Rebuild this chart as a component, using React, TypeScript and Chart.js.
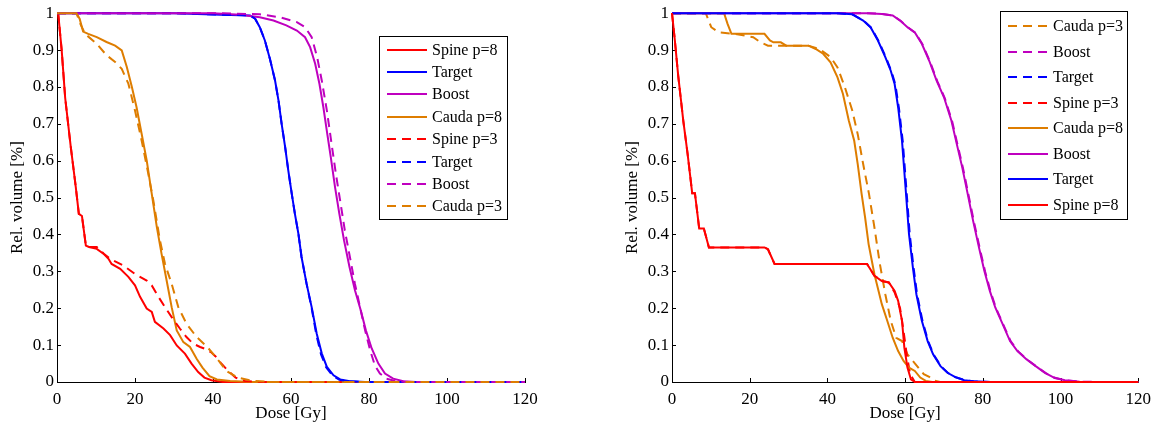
import React, { useEffect, useRef } from 'react';
import { Chart, registerables } from 'chart.js';

Chart.register(...registerables);

// ---------- axis ticks ----------
const X_TICKS = [0, 20, 40, 60, 80, 100, 120];
const Y_TICKS = [0, 0.1, 0.2, 0.3, 0.4, 0.5, 0.6, 0.7, 0.8, 0.9, 1];
const X_TITLE = 'Dose [Gy]';
const Y_TITLE = 'Rel. volume [%]';

// ---------- colours ----------
const RED = '#ff0000';
const BLUE = '#0000ff';
const MAGENTA = '#bf00bf';
const ORANGE = '#de7d00';

type Pt = [number, number];

// ---------- left figure: [dose Gy, relative volume] ----------
const leftSpineP8: Pt[] = [[0, 1], [0.3, 1], [1.2, 0.9], [2.1, 0.77], [3.5, 0.64], [4.8, 0.53], [5.6, 0.456], [6.4, 0.45], [7.4, 0.37], [8.2, 0.366], [10.2, 0.361], [11.9, 0.348], [13.2, 0.334], [14, 0.32], [16.2, 0.307], [18.3, 0.285], [20, 0.262], [21.3, 0.231], [23, 0.199], [24.3, 0.19], [25.1, 0.163], [27.3, 0.145], [29, 0.127], [30.7, 0.099], [32.8, 0.077], [34.5, 0.05], [36.2, 0.027], [37.8, 0.012], [39.6, 0.005], [42.5, 0], [120, 0]];
const leftTargetP8: Pt[] = [[0, 1], [30, 1], [42, 0.996], [49.5, 0.994], [50.8, 0.985], [52, 0.962], [53.3, 0.926], [54.6, 0.876], [55.9, 0.818], [56.8, 0.763], [57.6, 0.7], [58.5, 0.637], [59.3, 0.574], [60.2, 0.51], [61, 0.456], [61.9, 0.402], [62.7, 0.339], [64, 0.266], [65.3, 0.203], [66.6, 0.131], [67.9, 0.077], [69.2, 0.041], [70.9, 0.018], [72.6, 0.007], [75.1, 0.002], [79, 0], [120, 0]];
const leftBoostP8: Pt[] = [[0, 1], [40, 1], [47, 0.996], [52, 0.989], [55.5, 0.98], [58.8, 0.967], [61.5, 0.953], [63.6, 0.935], [64.9, 0.908], [66.2, 0.863], [67.3, 0.808], [68.3, 0.745], [69.3, 0.673], [70.2, 0.61], [71.3, 0.528], [72.4, 0.456], [73.6, 0.384], [75, 0.312], [76.4, 0.249], [77.9, 0.194], [79.2, 0.14], [80.7, 0.091], [82.4, 0.05], [84.1, 0.023], [86.2, 0.009], [88.8, 0.002], [92, 0], [120, 0]];
const leftCaudaP8: Pt[] = [[0, 1], [5, 1], [5.8, 0.985], [6.7, 0.95], [8, 0.944], [10.2, 0.935], [12.7, 0.922], [14.9, 0.912], [16.6, 0.899], [17.9, 0.854], [19.2, 0.8], [20.4, 0.745], [21.7, 0.673], [23, 0.601], [24.3, 0.51], [25.6, 0.42], [26.8, 0.348], [28.1, 0.276], [29.4, 0.203], [30.7, 0.14], [32.4, 0.108], [34.1, 0.095], [35.8, 0.063], [37.3, 0.039], [39.1, 0.016], [41, 0.007], [44.4, 0.003], [50, 0], [120, 0]];
const leftSpineP3: Pt[] = [[0, 1], [0.3, 1], [1.2, 0.9], [2.1, 0.77], [3.5, 0.64], [4.8, 0.53], [5.6, 0.456], [6.4, 0.45], [7.4, 0.37], [8.2, 0.366], [10.2, 0.366], [12, 0.348], [13.6, 0.334], [17, 0.316], [20, 0.293], [23, 0.275], [24.3, 0.262], [26, 0.231], [27.7, 0.203], [29.4, 0.176], [31.5, 0.145], [33.2, 0.122], [34.9, 0.104], [36.7, 0.095], [38.4, 0.088], [39.6, 0.08], [40.6, 0.07], [42, 0.052], [43.9, 0.03], [45.8, 0.012], [48.2, 0.003], [52, 0], [120, 0]];
const leftTargetP3: Pt[] = [[0, 1], [30, 1], [42, 0.996], [49.5, 0.994], [50.8, 0.985], [52, 0.962], [53.3, 0.926], [54.6, 0.876], [55.9, 0.818], [56.8, 0.763], [57.6, 0.7], [58.5, 0.637], [59.3, 0.574], [60.2, 0.51], [61, 0.456], [61.9, 0.402], [62.7, 0.339], [64, 0.266], [65.3, 0.2], [66.5, 0.128], [67.7, 0.075], [69, 0.04], [70.7, 0.017], [72.4, 0.006], [75, 0.002], [79, 0], [120, 0]];
const leftBoostP3: Pt[] = [[0, 1], [42, 1], [52, 0.997], [57.2, 0.989], [61.5, 0.976], [63.6, 0.962], [65.3, 0.935], [66.7, 0.881], [67.9, 0.817], [69.2, 0.736], [70.4, 0.646], [71.5, 0.565], [72.6, 0.492], [73.8, 0.411], [75.1, 0.339], [76.4, 0.266], [77.7, 0.203], [79, 0.14], [80.3, 0.086], [81.5, 0.045], [82.8, 0.023], [84.5, 0.009], [86.7, 0.003], [90, 0], [120, 0]];
const leftCaudaP3: Pt[] = [[0, 1], [5, 1], [5.9, 0.973], [7.2, 0.944], [10.2, 0.917], [12.7, 0.886], [14.9, 0.868], [16.6, 0.849], [18.3, 0.809], [20, 0.736], [21.7, 0.655], [23.4, 0.565], [24.7, 0.492], [26.4, 0.384], [27.7, 0.32], [29.4, 0.266], [31.1, 0.203], [33.2, 0.158], [35.8, 0.122], [38.7, 0.093], [41.5, 0.057], [43.4, 0.03], [46.3, 0.012], [50, 0.003], [55, 0], [120, 0]];

// ---------- right figure: [dose Gy, relative volume] ----------
const rightCaudaP3: Pt[] = [[0, 1], [8.7, 1], [10.1, 0.962], [12, 0.948], [16.2, 0.944], [20.9, 0.935], [22.8, 0.921], [24.7, 0.912], [35.1, 0.912], [37.9, 0.903], [40.8, 0.881], [42.6, 0.853], [44.5, 0.799], [46.4, 0.736], [47.8, 0.672], [49.2, 0.591], [50.7, 0.51], [52.1, 0.419], [53.5, 0.32], [54.9, 0.238], [56.3, 0.166], [57.7, 0.12], [59.2, 0.111], [60.6, 0.075], [62, 0.057], [63.4, 0.039], [64.8, 0.021], [66.2, 0.014], [67.2, 0.005], [69, 0], [120, 0]];
const rightBoostP3: Pt[] = [[0, 1], [50.5, 1], [54.2, 0.998], [57, 0.993], [58.9, 0.979], [60.8, 0.961], [62.7, 0.946], [64.5, 0.915], [66.4, 0.869], [68.3, 0.815], [70.2, 0.77], [72.1, 0.707], [73.5, 0.643], [74.9, 0.58], [76.3, 0.508], [77.7, 0.435], [79.2, 0.363], [80.6, 0.299], [82, 0.245], [83.4, 0.2], [85.3, 0.155], [87.2, 0.11], [89.1, 0.083], [91.4, 0.061], [93.8, 0.042], [96.2, 0.024], [98.5, 0.011], [101.3, 0.005], [105, 0.001], [110, 0], [120, 0]];
const rightTargetP3: Pt[] = [[0, 1], [43, 1], [46.6, 0.996], [49.4, 0.979], [51.3, 0.96], [53.2, 0.924], [55.1, 0.879], [56.5, 0.842], [57.5, 0.806], [58.4, 0.743], [59.4, 0.652], [60.3, 0.526], [61.2, 0.399], [62.2, 0.308], [63.1, 0.236], [64.5, 0.164], [66, 0.109], [67.4, 0.073], [69.3, 0.042], [71.1, 0.024], [73, 0.013], [75.4, 0.005], [77.7, 0.002], [82, 0], [120, 0]];
const rightSpineP3: Pt[] = [[0, 1], [0.7, 0.93], [1.6, 0.83], [2.3, 0.765], [2.9, 0.709], [4, 0.62], [5.2, 0.512], [5.9, 0.512], [7, 0.416], [8.2, 0.416], [9.5, 0.365], [23.8, 0.365], [24.7, 0.36], [26.4, 0.32], [50.2, 0.32], [52.1, 0.288], [54, 0.274], [55.8, 0.27], [57.3, 0.243], [58.7, 0.2], [59.6, 0.138], [60.4, 0.075], [61.3, 0.021], [62.5, 0], [120, 0]];
const rightCaudaP8: Pt[] = [[0, 1], [13.4, 1], [14.3, 0.971], [15.3, 0.944], [23.8, 0.944], [25.2, 0.926], [26.1, 0.921], [28, 0.921], [29.4, 0.912], [35.1, 0.912], [37, 0.903], [38.9, 0.89], [40.8, 0.867], [42.6, 0.826], [44, 0.781], [45.5, 0.709], [46.9, 0.654], [47.8, 0.591], [48.8, 0.51], [49.7, 0.446], [50.6, 0.374], [52.1, 0.292], [54, 0.211], [55.4, 0.166], [56.8, 0.12], [58.2, 0.084], [59.6, 0.057], [61, 0.039], [62.5, 0.03], [63.9, 0.012], [65.3, 0.003], [67, 0], [120, 0]];
const rightBoostP8: Pt[] = [[0, 1], [50.2, 1], [54, 0.998], [56.8, 0.994], [58.7, 0.98], [60.6, 0.962], [62.5, 0.948], [64.3, 0.917], [66.2, 0.871], [68.1, 0.817], [70, 0.772], [71.9, 0.709], [73.3, 0.645], [74.7, 0.582], [76.1, 0.51], [77.5, 0.437], [79, 0.365], [80.4, 0.301], [81.8, 0.247], [83.2, 0.202], [85.1, 0.157], [87, 0.111], [88.9, 0.084], [91.2, 0.062], [93.6, 0.043], [96, 0.025], [98.3, 0.012], [101.1, 0.005], [104.9, 0.001], [110, 0], [120, 0]];
const rightTargetP8: Pt[] = [[0, 1], [42.6, 1], [46.4, 0.997], [49.2, 0.98], [51.1, 0.962], [53, 0.926], [54.9, 0.881], [56.3, 0.844], [57.3, 0.808], [58.2, 0.745], [59.2, 0.654], [60.1, 0.528], [61, 0.401], [62, 0.31], [62.9, 0.238], [64.3, 0.166], [65.8, 0.111], [67.2, 0.075], [69.1, 0.043], [70.9, 0.025], [72.8, 0.014], [75.2, 0.005], [77.5, 0.002], [82, 0], [120, 0]];
const rightSpineP8: Pt[] = [[0, 1], [0.7, 0.93], [1.6, 0.83], [2.3, 0.765], [2.9, 0.709], [4, 0.62], [5.2, 0.512], [5.9, 0.512], [7, 0.416], [8.2, 0.416], [9.5, 0.365], [23.8, 0.365], [24.7, 0.36], [26.4, 0.32], [50.2, 0.32], [52.1, 0.288], [54, 0.274], [55.8, 0.27], [57.3, 0.247], [58.2, 0.22], [59.2, 0.166], [59.8, 0.093], [60.6, 0.039], [61.5, 0.007], [62.5, 0], [120, 0]];

// series in plotting (= legend) order
type Series = { label: string; color: string; dashed: boolean; data: Pt[] };
const LEFT_SERIES: Series[] = [
  { label: 'Spine p=8', color: RED, dashed: false, data: leftSpineP8 },
  { label: 'Target', color: BLUE, dashed: false, data: leftTargetP8 },
  { label: 'Boost', color: MAGENTA, dashed: false, data: leftBoostP8 },
  { label: 'Cauda p=8', color: ORANGE, dashed: false, data: leftCaudaP8 },
  { label: 'Spine p=3', color: RED, dashed: true, data: leftSpineP3 },
  { label: 'Target', color: BLUE, dashed: true, data: leftTargetP3 },
  { label: 'Boost', color: MAGENTA, dashed: true, data: leftBoostP3 },
  { label: 'Cauda p=3', color: ORANGE, dashed: true, data: leftCaudaP3 },
];
const RIGHT_SERIES: Series[] = [
  { label: 'Cauda p=3', color: ORANGE, dashed: true, data: rightCaudaP3 },
  { label: 'Boost', color: MAGENTA, dashed: true, data: rightBoostP3 },
  { label: 'Target', color: BLUE, dashed: true, data: rightTargetP3 },
  { label: 'Spine p=3', color: RED, dashed: true, data: rightSpineP3 },
  { label: 'Cauda p=8', color: ORANGE, dashed: false, data: rightCaudaP8 },
  { label: 'Boost', color: MAGENTA, dashed: false, data: rightBoostP8 },
  { label: 'Target', color: BLUE, dashed: false, data: rightTargetP8 },
  { label: 'Spine p=8', color: RED, dashed: false, data: rightSpineP8 },
];

const FONT = '"Liberation Serif", "Times New Roman", serif';
const DASH = [9, 6];

const inwardTicks = {
  id: 'inwardTicks',
  beforeDatasetsDraw(chart: any) {
    const { ctx, chartArea, scales } = chart;
    ctx.save();
    ctx.strokeStyle = '#000';
    ctx.lineWidth = 1;
    ctx.beginPath();
    X_TICKS.forEach((v) => {
      const px = Math.round(scales.x.getPixelForValue(v)) + 0.5;
      ctx.moveTo(px, chartArea.bottom);
      ctx.lineTo(px, chartArea.bottom - 4);
    });
    Y_TICKS.forEach((v) => {
      const py = Math.round(scales.y.getPixelForValue(v)) + 0.5;
      ctx.moveTo(chartArea.left, py);
      ctx.lineTo(chartArea.left + 4, py);
    });
    ctx.stroke();
    ctx.restore();
  },
};

const boxLegend = {
  id: 'boxLegend',
  afterDatasetsDraw(chart: any, _args: any, opts: any) {
    const { ctx, chartArea } = chart;
    const x0 = chartArea.left + opts.x;
    const y0 = opts.y;
    ctx.save();
    ctx.fillStyle = '#fff';
    ctx.fillRect(x0, y0, opts.w, opts.h);
    ctx.strokeStyle = '#000';
    ctx.lineWidth = 1;
    ctx.strokeRect(Math.round(x0) + 0.5, Math.round(y0) + 0.5, Math.round(opts.w), Math.round(opts.h));
    ctx.font = '16px ' + FONT;
    ctx.textBaseline = 'middle';
    ctx.textAlign = 'left';
    chart.data.datasets.forEach((ds: any, i: number) => {
      const cy = Math.round(y0 + opts.first + i * opts.rowH);
      ctx.strokeStyle = ds.borderColor;
      ctx.lineWidth = 2;
      ctx.setLineDash(ds.borderDash || []);
      ctx.beginPath();
      ctx.moveTo(x0 + 8, cy);
      ctx.lineTo(x0 + 48, cy);
      ctx.stroke();
      ctx.setLineDash([]);
      ctx.fillStyle = '#000';
      ctx.fillText(ds.label, x0 + 53, cy + 1);
    });
    ctx.restore();
  },
};

type PanelProps = { series: Series[]; padLeft: number; padRight: number; legend: any; left: number };

function Panel({ series, padLeft, padRight, legend, left }: PanelProps) {
  const ref = useRef<HTMLCanvasElement | null>(null);
  useEffect(() => {
    if (!ref.current) return;
    const n = series.length;
    const chart = new Chart(ref.current, {
      type: 'line',
      data: {
        datasets: series.map((s, i) => ({
          label: s.label,
          data: s.data.map(([x, y]) => ({ x, y })),
          borderColor: s.color,
          backgroundColor: s.color,
          borderWidth: 2,
          borderDash: s.dashed ? DASH : [],
          pointRadius: 0,
          tension: 0,
          fill: false,
          clip: false,
          order: n - i,
        })),
      },
      options: {
        animation: false,
        responsive: false,
        devicePixelRatio: 1,
        layout: { padding: { left: padLeft, right: padRight, top: 13, bottom: 0 } },
        plugins: {
          legend: { display: false },
          tooltip: { enabled: false },
          boxLegend: legend,
        } as any,
        scales: {
          x: {
            type: 'linear',
            min: 0,
            max: 120,
            afterBuildTicks: (s: any) => { s.ticks = X_TICKS.map((v) => ({ value: v })); },
            afterFit: (s: any) => { s.height = 45; },
            grid: { display: false, drawTicks: false },
            border: { display: true, color: '#000', width: 1 },
            ticks: { color: '#000', font: { family: FONT, size: 17 }, padding: 7, maxRotation: 0, autoSkip: false },
            title: { display: true, text: X_TITLE, color: '#000', font: { family: FONT, size: 17 }, padding: { top: 0, bottom: 3 } },
          },
          y: {
            type: 'linear',
            min: 0,
            max: 1,
            afterBuildTicks: (s: any) => { s.ticks = Y_TICKS.map((v) => ({ value: v })); },
            afterFit: (s: any) => { s.width = 57; },
            grid: { display: false, drawTicks: false },
            border: { display: true, color: '#000', width: 1 },
            ticks: {
              color: '#000',
              font: { family: FONT, size: 17 },
              padding: 3,
              autoSkip: false,
              callback: (v: any) => String(Number(Number(v).toFixed(1))),
            },
            title: { display: true, text: Y_TITLE, color: '#000', font: { family: FONT, size: 17 }, padding: { top: 7, bottom: 0 } },
          },
        },
      },
      plugins: [inwardTicks, boxLegend],
    } as any);
    return () => chart.destroy();
  }, []);
  return (
    <canvas
      ref={ref}
      width={579}
      height={427}
      style={{ position: 'absolute', left, top: 0, width: 579, height: 427 }}
    />
  );
}

export default function App() {
  return (
    <div style={{ position: 'absolute', left: 0, top: 0, width: 1158, height: 427, background: '#fff', overflow: 'hidden' }}>
      <Panel
        series={LEFT_SERIES}
        padLeft={0}
        padRight={54}
        left={0}
        legend={{ x: 322, y: 35.5, w: 128, h: 183, first: 14, rowH: 22.4 }}
      />
      <Panel
        series={RIGHT_SERIES}
        padLeft={36}
        padRight={18}
        left={579}
        legend={{ x: 328, y: 11, w: 127, h: 208, first: 15, rowH: 25.5 }}
      />
    </div>
  );
}
